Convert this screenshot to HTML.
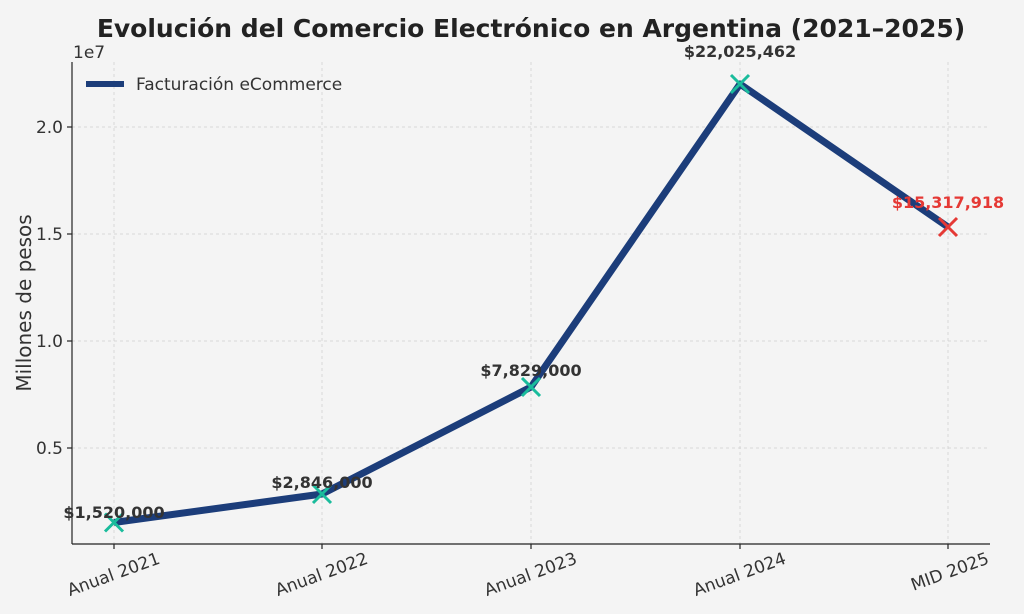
<!DOCTYPE html>
<html><head><meta charset="utf-8"><style>
html,body{margin:0;padding:0;background:#f4f4f4;}
svg{display:block;font-family:"DejaVu Sans","Liberation Sans",sans-serif;}
</style></head><body>
<svg width="1024" height="614" viewBox="0 0 1024 614" xmlns="http://www.w3.org/2000/svg">
<rect width="1024" height="614" fill="#f4f4f4"/>
<text x="531" y="37" text-anchor="middle" font-size="25" font-weight="bold" fill="#222">Evolución del Comercio Electrónico en Argentina (2021–2025)</text>
<g stroke="#d0d0d0" stroke-dasharray="3,3" stroke-width="0.8">
<line x1="114" y1="62" x2="114" y2="544"/><line x1="322" y1="62" x2="322" y2="544"/><line x1="531" y1="62" x2="531" y2="544"/><line x1="740" y1="62" x2="740" y2="544"/><line x1="948" y1="62" x2="948" y2="544"/>
<line x1="72" y1="127" x2="990" y2="127"/><line x1="72" y1="234" x2="990" y2="234"/><line x1="72" y1="341" x2="990" y2="341"/><line x1="72" y1="448" x2="990" y2="448"/>
</g>
<g stroke="#222" stroke-width="1.2"><line x1="72" y1="62" x2="72" y2="544"/><line x1="72" y1="544" x2="990" y2="544"/>
<line x1="67" y1="127" x2="72" y2="127"/><line x1="67" y1="234" x2="72" y2="234"/><line x1="67" y1="341" x2="72" y2="341"/><line x1="67" y1="448" x2="72" y2="448"/>
<line x1="114" y1="544" x2="114" y2="549"/><line x1="322" y1="544" x2="322" y2="549"/><line x1="531" y1="544" x2="531" y2="549"/><line x1="740" y1="544" x2="740" y2="549"/><line x1="948" y1="544" x2="948" y2="549"/></g>
<g font-size="17" fill="#333" text-anchor="end">
<text x="63" y="133">2.0</text><text x="63" y="240">1.5</text><text x="63" y="347">1.0</text><text x="63" y="454">0.5</text></g>
<text x="73" y="58" font-size="17" fill="#333">1e7</text>
<text transform="translate(31,303) rotate(-90)" text-anchor="middle" font-size="20" fill="#333">Millones de pesos</text>
<g font-size="17" fill="#333" text-anchor="end">
<text transform="translate(161,563) rotate(-20)">Anual 2021</text>
<text transform="translate(369,563) rotate(-20)">Anual 2022</text>
<text transform="translate(578,563) rotate(-20)">Anual 2023</text>
<text transform="translate(787,563) rotate(-20)">Anual 2024</text>
<text transform="translate(990,563) rotate(-20)">MID 2025</text></g>
<polyline points="114,522.5 322,494 531,387 740,84 948,227" fill="none" stroke="#1c3d7a" stroke-width="7" stroke-linejoin="round"/>
<g stroke="#1abc9c" stroke-width="3">
<path d="M105,513.5L123,531.5M123,513.5L105,531.5"/>
<path d="M313,485L331,503M331,485L313,503"/>
<path d="M522,378L540,396M540,378L522,396"/>
<path d="M731,75L749,93M749,75L731,93"/></g>
<path d="M939,218L957,236M957,218L939,236" stroke="#e53935" stroke-width="3"/>
<g font-size="16" font-weight="bold" fill="#333" text-anchor="middle">
<text x="114" y="518">$1,520,000</text>
<text x="322" y="488">$2,846,000</text>
<text x="531" y="376">$7,829,000</text>
<text x="740" y="57">$22,025,462</text></g>
<text x="948" y="208" font-size="16" font-weight="bold" fill="#e53935" text-anchor="middle">$15,317,918</text>
<line x1="86" y1="84" x2="124" y2="84" stroke="#1c3d7a" stroke-width="6"/>
<circle cx="105" cy="84" r="3" fill="#1c3d7a"/>
<text x="136" y="90" font-size="17" fill="#333">Facturación eCommerce</text>
</svg>
</body></html>
